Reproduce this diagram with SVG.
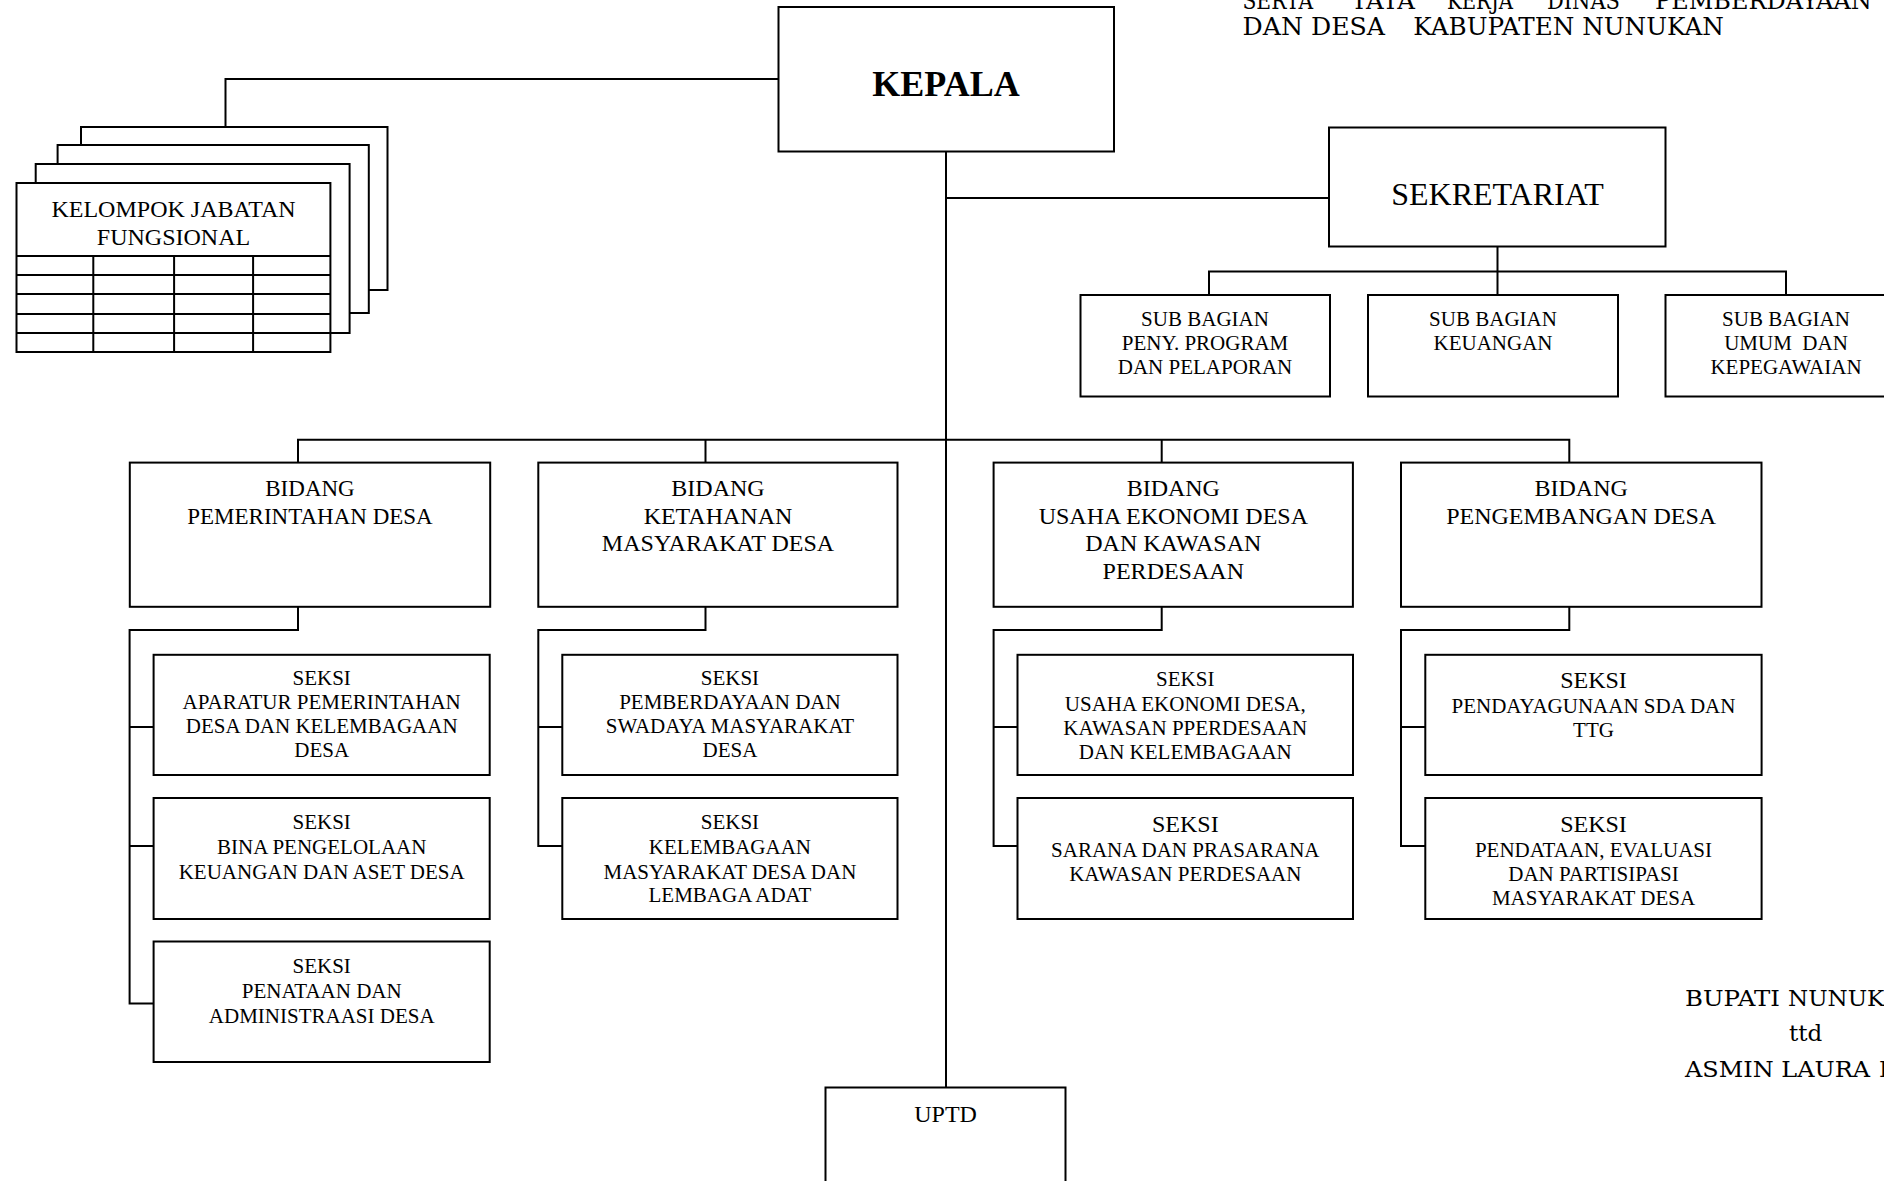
<svg xmlns="http://www.w3.org/2000/svg" width="1884" height="1181" viewBox="0 0 1884 1181">
<style>
.box{fill:#fff;stroke:#000;stroke-width:2}
.ln{fill:none;stroke:#000;stroke-width:2}
.t{font-family:"Liberation Serif","Times New Roman",serif;text-anchor:middle;fill:#000}
.s21{font-size:21px}
.s23{font-size:23px}
.s24{font-size:24px}
.bk{font-family:"DejaVu Serif","Liberation Serif",serif;fill:#000;white-space:pre}
</style>
<rect x="0" y="0" width="1884" height="1181" fill="#fff"/>

<g id="header-text">
<text class="bk" font-size="24" y="9"><tspan x="1242.5" textLength="70.5" lengthAdjust="spacingAndGlyphs">SERTA</tspan><tspan x="1351" textLength="64" lengthAdjust="spacingAndGlyphs">TATA</tspan><tspan x="1447" textLength="66" lengthAdjust="spacingAndGlyphs">KERJA</tspan><tspan x="1547" textLength="73" lengthAdjust="spacingAndGlyphs">DINAS</tspan><tspan x="1655">PEMBERDAYAAN</tspan></text>
<text class="bk" font-size="24" y="35"><tspan x="1242.5" textLength="142.5" lengthAdjust="spacingAndGlyphs">DAN DESA</tspan><tspan x="1413.3" textLength="310.5" lengthAdjust="spacingAndGlyphs">KABUPATEN NUNUKAN</tspan></text>
</g>

<g id="connectors">
<path class="ln" d="M778.5 79H225.5V127"/>
<path class="ln" d="M946 151.5V1087.5"/>
<path class="ln" d="M946 198H1329"/>
<path class="ln" d="M1497.5 246.5V295M1209 295V271.5H1786V295"/>
<path class="ln" d="M298 462.6V439.7H1569.3V462.6M705.5 439.7V462.6M1161.7 439.7V462.6"/>
<path class="ln" d="M298 606.8V630H129.6V1003.5H153.6M129.6 727H153.6M129.6 846H153.6"/>
<path class="ln" d="M705.5 606.8V630H538.3V846H562.3M538.3 727H562.3"/>
<path class="ln" d="M1161.7 606.8V630H993.6V846H1017.5M993.6 727H1017.5"/>
<path class="ln" d="M1569.3 606.8V630H1401V846H1425.3M1401 727H1425.3"/>
</g>

<g id="kepala">
<rect class="box" x="778.5" y="7" width="335.5" height="144.5"/>
<text class="t" x="946" y="96" font-size="36" font-weight="bold">KEPALA</text>
</g>

<g id="kelompok-jabatan-fungsional">
<rect class="box" x="81" y="127" width="306.5" height="163"/>
<rect class="box" x="57.6" y="145" width="311.2" height="168"/>
<rect class="box" x="35.7" y="164" width="313.9" height="169"/>
<rect class="box" x="16.5" y="183" width="313.9" height="169"/>
<path class="ln" d="M16.5 256H330.4M16.5 275H330.4M16.5 294H330.4M16.5 314H330.4M16.5 333H330.4M93.3 256V352M174.1 256V352M253.1 256V352"/>
<text class="t s24"><tspan x="173.5" y="217">KELOMPOK JABATAN</tspan><tspan x="173.5" y="245">FUNGSIONAL</tspan></text>
</g>

<g id="sekretariat">
<rect class="box" x="1329" y="127.5" width="336.5" height="119"/>
<text class="t" x="1497.5" y="205" font-size="32">SEKRETARIAT</text>
</g>

<g id="subbag-program">
<rect class="box" x="1080.5" y="295" width="249.5" height="101.5"/>
<text class="t s21"><tspan x="1205" y="326">SUB BAGIAN</tspan><tspan x="1205" y="350">PENY. PROGRAM</tspan><tspan x="1205" y="374">DAN PELAPORAN</tspan></text>
</g>
<g id="subbag-keuangan">
<rect class="box" x="1368" y="295" width="250" height="101.5"/>
<text class="t s21"><tspan x="1493" y="326">SUB BAGIAN</tspan><tspan x="1493" y="350">KEUANGAN</tspan></text>
</g>
<g id="subbag-umum">
<rect class="box" x="1665.5" y="295" width="250" height="101.5"/>
<text class="t s21" style="white-space:pre"><tspan x="1786" y="326">SUB BAGIAN</tspan><tspan x="1786" y="350">UMUM  DAN</tspan><tspan x="1786" y="374">KEPEGAWAIAN</tspan></text>
</g>

<g id="bidang-pemerintahan">
<rect class="box" x="129.8" y="462.6" width="360.4" height="144.2"/>
<text class="t s23"><tspan x="310" y="496">BIDANG</tspan><tspan x="310" y="523.5">PEMERINTAHAN DESA</tspan></text>
</g>
<g id="bidang-ketahanan">
<rect class="box" x="538.3" y="462.6" width="359.2" height="144.2"/>
<text class="t s24"><tspan x="718" y="496">BIDANG</tspan><tspan x="718" y="523.5">KETAHANAN</tspan><tspan x="718" y="551">MASYARAKAT DESA</tspan></text>
</g>
<g id="bidang-usaha">
<rect class="box" x="993.6" y="462.6" width="359.3" height="144.2"/>
<text class="t s24"><tspan x="1173.3" y="496">BIDANG</tspan><tspan x="1173.3" y="523.5">USAHA EKONOMI DESA</tspan><tspan x="1173.3" y="551">DAN KAWASAN</tspan><tspan x="1173.3" y="578.5">PERDESAAN</tspan></text>
</g>
<g id="bidang-pengembangan">
<rect class="box" x="1401" y="462.6" width="360.5" height="144.2"/>
<text class="t s24"><tspan x="1581.2" y="496">BIDANG</tspan><tspan x="1581.2" y="523.5">PENGEMBANGAN DESA</tspan></text>
</g>

<g id="seksi-aparatur">
<rect class="box" x="153.6" y="654.8" width="336.1" height="120.2"/>
<text class="t s21"><tspan x="321.7" y="685">SEKSI</tspan><tspan x="321.7" y="709">APARATUR PEMERINTAHAN</tspan><tspan x="321.7" y="733">DESA DAN KELEMBAGAAN</tspan><tspan x="321.7" y="757">DESA</tspan></text>
</g>
<g id="seksi-keuangan">
<rect class="box" x="153.6" y="798" width="336.1" height="121"/>
<text class="t s21"><tspan x="321.7" y="829">SEKSI</tspan><tspan x="321.7" y="854">BINA PENGELOLAAN</tspan><tspan x="321.7" y="878.5">KEUANGAN DAN ASET DESA</tspan></text>
</g>
<g id="seksi-penataan">
<rect class="box" x="153.6" y="941.5" width="336.1" height="120.5"/>
<text class="t s21"><tspan x="321.7" y="973">SEKSI</tspan><tspan x="321.7" y="997.7">PENATAAN DAN</tspan><tspan x="321.7" y="1022.5">ADMINISTRAASI DESA</tspan></text>
</g>

<g id="seksi-pemberdayaan">
<rect class="box" x="562.3" y="654.8" width="335.2" height="120.2"/>
<text class="t s21"><tspan x="729.9" y="685">SEKSI</tspan><tspan x="729.9" y="709">PEMBERDAYAAN DAN</tspan><tspan x="729.9" y="733">SWADAYA MASYARAKAT</tspan><tspan x="729.9" y="757">DESA</tspan></text>
</g>
<g id="seksi-kelembagaan">
<rect class="box" x="562.3" y="798" width="335.2" height="121"/>
<text class="t s21"><tspan x="729.9" y="829">SEKSI</tspan><tspan x="729.9" y="854">KELEMBAGAAN</tspan><tspan x="729.9" y="878.5">MASYARAKAT DESA DAN</tspan><tspan x="729.9" y="902">LEMBAGA ADAT</tspan></text>
</g>

<g id="seksi-usaha-ekonomi">
<rect class="box" x="1017.5" y="654.8" width="335.5" height="120.2"/>
<text class="t s21"><tspan x="1185.3" y="686">SEKSI</tspan><tspan x="1185.3" y="711">USAHA EKONOMI DESA,</tspan><tspan x="1185.3" y="735">KAWASAN PPERDESAAN</tspan><tspan x="1185.3" y="759">DAN KELEMBAGAAN</tspan></text>
</g>
<g id="seksi-sarana">
<rect class="box" x="1017.5" y="798" width="335.5" height="121"/>
<text class="t s24" x="1185.3" y="831.7">SEKSI</text>
<text class="t s21"><tspan x="1185.3" y="856.7">SARANA DAN PRASARANA</tspan><tspan x="1185.3" y="881">KAWASAN PERDESAAN</tspan></text>
</g>

<g id="seksi-pendayagunaan">
<rect class="box" x="1425.3" y="654.8" width="336.3" height="120.2"/>
<text class="t s24" x="1593.5" y="688">SEKSI</text>
<text class="t s21"><tspan x="1593.5" y="713">PENDAYAGUNAAN SDA DAN</tspan><tspan x="1593.5" y="737">TTG</tspan></text>
</g>
<g id="seksi-pendataan">
<rect class="box" x="1425.3" y="798" width="336.3" height="121"/>
<text class="t s24" x="1593.5" y="831.7">SEKSI</text>
<text class="t s21"><tspan x="1593.5" y="856.7">PENDATAAN, EVALUASI</tspan><tspan x="1593.5" y="881">DAN PARTISIPASI</tspan><tspan x="1593.5" y="905">MASYARAKAT DESA</tspan></text>
</g>

<g id="uptd">
<rect class="box" x="825.5" y="1087.5" width="240" height="120"/>
<text class="t s24" x="945.6" y="1121.7">UPTD</text>
</g>

<g id="signature">
<text class="bk" font-size="23" y="1006"><tspan x="1685" textLength="95" lengthAdjust="spacingAndGlyphs">BUPATI</tspan><tspan x="1788">NUNUKAN</tspan></text>
<text class="bk" font-size="23" x="1805.7" y="1041" text-anchor="middle">ttd</text>
<text class="bk" font-size="23" y="1077"><tspan x="1685" textLength="185" lengthAdjust="spacingAndGlyphs">ASMIN LAURA</tspan><tspan x="1879">HAFID</tspan></text>
</g>
</svg>
